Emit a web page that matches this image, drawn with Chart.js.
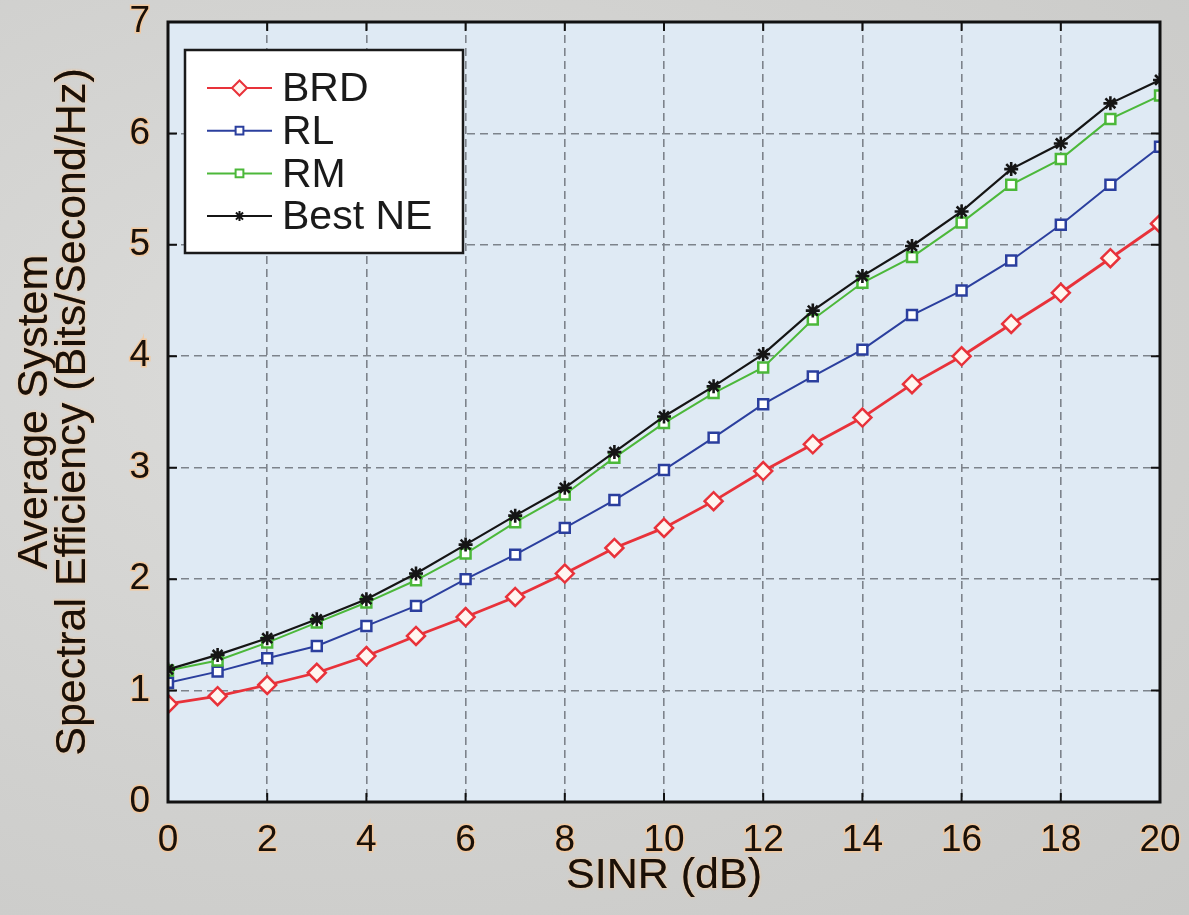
<!DOCTYPE html>
<html>
<head>
<meta charset="utf-8">
<script src="https://cdn.jsdelivr.net/npm/chart.js@4/dist/chart.umd.min.js"></script>
<style>
  html, body { margin: 0; padding: 0; background: #d2d2d0; }
  #wrap { width: 1189px; height: 915px; position: relative;
    background: radial-gradient(ellipse at 30% 40%, #dcdcda 0%, #d0d0ce 60%, #c9c9c7 100%); }
  canvas { display: block; }
</style>
</head>
<body>
<div id="wrap"><canvas id="c" width="1189" height="915"></canvas></div>
<script>
const sinr = [0,1,2,3,4,5,6,7,8,9,10,11,12,13,14,15,16,17,18,19,20];
const brd  = [0.88,0.95,1.05,1.16,1.31,1.49,1.66,1.84,2.05,2.28,2.46,2.70,2.97,3.21,3.45,3.75,4.00,4.29,4.57,4.88,5.19];
const rl   = [1.07,1.17,1.29,1.40,1.58,1.76,2.00,2.22,2.46,2.71,2.98,3.27,3.57,3.82,4.06,4.37,4.59,4.86,5.18,5.54,5.88];
const rm   = [1.18,1.27,1.43,1.61,1.79,1.99,2.23,2.51,2.76,3.09,3.40,3.67,3.90,4.33,4.66,4.89,5.20,5.54,5.77,6.13,6.34];
const bne  = [1.19,1.32,1.47,1.64,1.82,2.05,2.31,2.57,2.82,3.14,3.46,3.73,4.02,4.41,4.72,4.99,5.30,5.68,5.91,6.27,6.48];
const seriesNames = ['BRD','RL','RM','Best NE'];
const xTitle = 'SINR (dB)';
const yTitle = ['Average System','Spectral Efficiency (Bits/Second/Hz)'];

const FONT = "'Liberation Sans', Arial, Helvetica, sans-serif";
const TXT = '#1a1008';
const GLOW = 'rgba(242,200,158,0.95)';

function pts(arr){ return arr.map((v,i)=>({x:sinr[i], y:v})); }

const styles = [
  {color:'#e8323a', style:'rectRot', r:9, fill:'#fff6f0', lw:2.8, blw:2.5},
  {color:'#2b3f9e', style:'rect', r:7, fill:'#ffffff', lw:2, blw:2.5},
  {color:'#4cb83a', style:'rect', r:7, fill:'#ffffff', lw:2, blw:2.5},
  {color:'#151515', style:'star', r:7, fill:'#151515', lw:2.2, blw:2.6}
];
const values = [brd, rl, rm, bne];

const datasets = values.map((arr,i)=>({
  label: seriesNames[i],
  data: pts(arr),
  borderColor: styles[i].color,
  backgroundColor: styles[i].fill,
  borderWidth: styles[i].lw,
  pointStyle: styles[i].style,
  pointRadius: styles[i].r,
  pointBorderWidth: styles[i].blw,
  pointBorderColor: styles[i].color,
  pointBackgroundColor: styles[i].fill,
  tension: 0,
  fill: false
}));
datasets.forEach((d,i)=>{ d.order = 4 - i; });

function glowTitle(s){
  if (s.__glow) return;
  s.__glow = true;
  const orig = s.drawTitle;
  s.drawTitle = function(){
    const c = this.ctx;
    c.save();
    c.shadowColor = GLOW;
    c.shadowBlur = 3;
    orig.apply(this, arguments);
    orig.apply(this, arguments);
    c.restore();
  };
}

const framePlugin = {
  id: 'frame',
  beforeDraw(chart){
    const {ctx, chartArea:a} = chart;
    ctx.save();
    ctx.fillStyle = '#dfeaf4';
    ctx.fillRect(a.left, a.top, a.right-a.left, a.bottom-a.top);
    ctx.restore();
  },
  afterDatasetsDraw(chart){
    const {ctx, chartArea:a, scales} = chart;
    ctx.save();
    ctx.strokeStyle = '#111';
    ctx.lineWidth = 2;
    const L = 9;
    scales.x.ticks.forEach(t=>{
      const px = scales.x.getPixelForValue(t.value);
      ctx.beginPath();
      ctx.moveTo(px, a.bottom); ctx.lineTo(px, a.bottom-L);
      ctx.moveTo(px, a.top); ctx.lineTo(px, a.top+L);
      ctx.stroke();
    });
    scales.y.ticks.forEach(t=>{
      const py = scales.y.getPixelForValue(t.value);
      ctx.beginPath();
      ctx.moveTo(a.left, py); ctx.lineTo(a.left+L, py);
      ctx.moveTo(a.right, py); ctx.lineTo(a.right-L, py);
      ctx.stroke();
    });
    ctx.lineWidth = 3;
    ctx.strokeStyle = '#111';
    ctx.strokeRect(a.left, a.top, a.right-a.left, a.bottom-a.top);

    // legend box
    const bx = a.left + 17, by = a.top + 28, bw = 278, bh = 203;
    ctx.fillStyle = '#ffffff';
    ctx.fillRect(bx, by, bw, bh);
    ctx.lineWidth = 2.5;
    ctx.strokeStyle = '#1a1a1a';
    ctx.strokeRect(bx, by, bw, bh);
    ctx.font = '41px ' + FONT;
    ctx.textBaseline = 'middle';
    ctx.textAlign = 'left';
    chart.data.datasets.forEach((d,i)=>{
      const y = by + 38 + i*42.7;
      const x0 = bx + 22, x1 = bx + 87, xm = (x0+x1)/2;
      ctx.strokeStyle = d.borderColor;
      ctx.lineWidth = 2;
      ctx.beginPath(); ctx.moveTo(x0, y); ctx.lineTo(x1, y); ctx.stroke();
      const legR = styles[i].style === 'rectRot' ? 7.5 : (styles[i].style === 'star' ? 5 : 5.5);
      ctx.fillStyle = d.pointBackgroundColor;
      ctx.strokeStyle = d.pointBorderColor;
      ctx.lineWidth = 2;
      Chart.helpers.drawPoint(ctx, {pointStyle: d.pointStyle, radius: legR, borderWidth: 2}, xm, y);
      ctx.fillStyle = '#1a1a1a';
      ctx.fillText(d.label, bx + 97, y + 2);
    });
    ctx.restore();
  }
};

new Chart(document.getElementById('c'), {
  type: 'line',
  data: { datasets },
  options: {
    responsive: false,
    animation: false,
    devicePixelRatio: 1,
    layout: { padding: { left: 0, top: 22, right: 29, bottom: 0 } },
    plugins: { legend: { display: false }, tooltip: { enabled: false } },
    scales: {
      x: {
        type: 'linear', min: 0, max: 20,
        ticks: { stepSize: 2, color: TXT, font: { family: FONT, size: 37 }, padding: 17, maxRotation: 0,
                 textStrokeColor: GLOW, textStrokeWidth: 3 },
        grid: { color: '#7d838b', lineWidth: 1.6, drawTicks: false, tickLength: 0 },
        border: { display: false, dash: [8,5] },
        title: { display: true, text: xTitle, color: TXT, font: { family: FONT, size: 43, lineHeight: 1.2 }, padding: { top: 0, bottom: 13 } },
        afterFit(s){ s.height = 113; s.paddingLeft = 0; s.paddingRight = 0; glowTitle(s); }
      },
      y: {
        type: 'linear', min: 0, max: 7,
        ticks: { stepSize: 1, color: TXT, font: { family: FONT, size: 37 }, padding: 18,
                 textStrokeColor: GLOW, textStrokeWidth: 3 },
        grid: { color: '#7d838b', lineWidth: 1.6, drawTicks: false, tickLength: 0 },
        border: { display: false, dash: [8,5] },
        title: { display: true, text: yTitle, color: TXT, font: { family: FONT, size: 43, lineHeight: 0.88 }, padding: { top: 16, bottom: 0 } },
        afterFit(s){ s.width = 168; s.paddingTop = 0; s.paddingBottom = 0; glowTitle(s); }
      }
    }
  },
  plugins: [framePlugin]
});
</script>
</body>
</html>
